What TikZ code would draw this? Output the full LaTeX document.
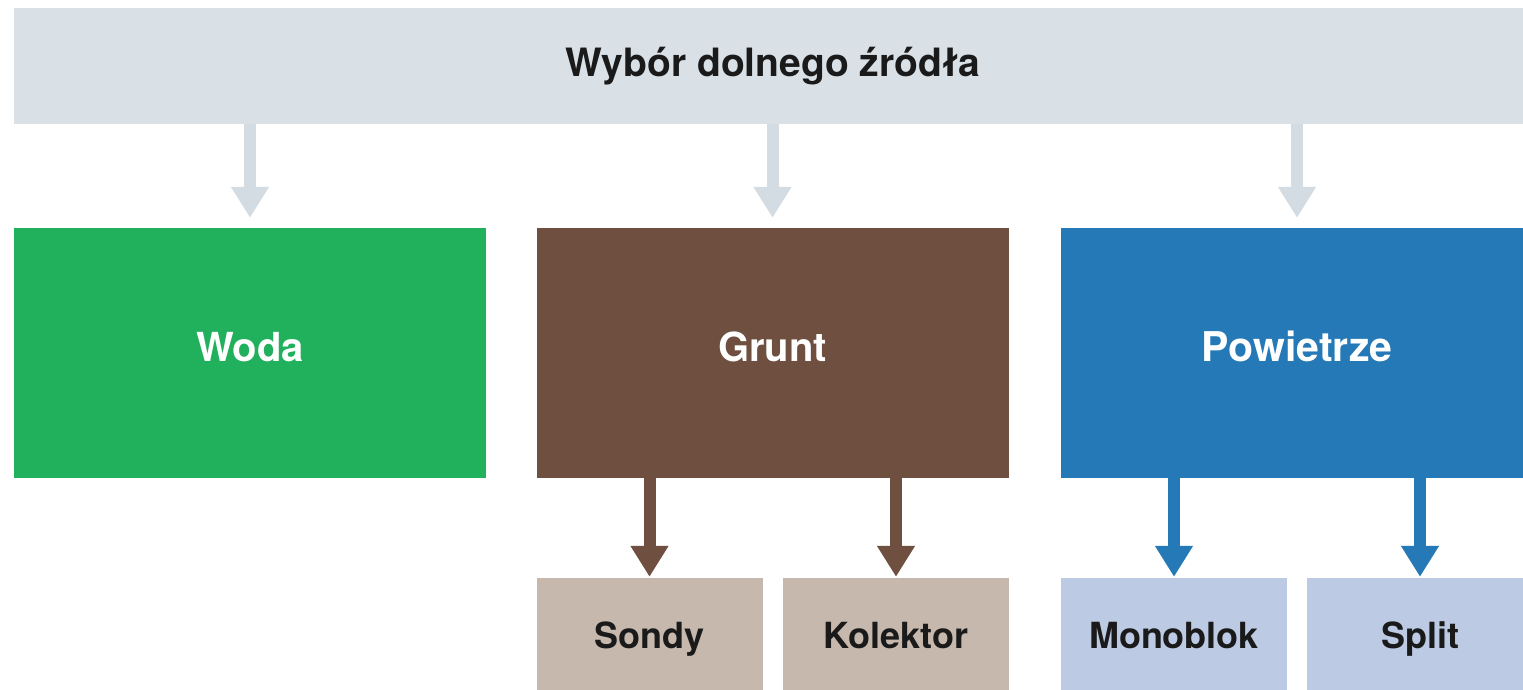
\documentclass[tikz,border=0pt]{standalone}
\usepackage{fontspec}
\setmainfont{TeX Gyre Heros}
\usetikzlibrary{arrows.meta}
\definecolor{topbar}{HTML}{D9E0E6}
\definecolor{grayarrow}{HTML}{D3DCE3}
\definecolor{wgreen}{HTML}{21B05B}
\definecolor{gbrown}{HTML}{6F4F3F}
\definecolor{pblue}{HTML}{2479B6}
\definecolor{lbrown}{HTML}{C6B8AD}
\definecolor{lblue}{HTML}{BCCBE3}
\definecolor{darktext}{HTML}{1A1A1A}
\tikzset{
  box/.style={rectangle, inner sep=0pt, text depth=0pt, font=\bfseries\fontsize{40}{44}\selectfont},
  mainbox/.style={box, minimum width=472pt, minimum height=250pt, text=white, text height=16pt},
  subbox/.style={box, minimum width=226pt, minimum height=118pt, text=darktext, text height=22pt, font=\bfseries\fontsize{36}{40}\selectfont},
  arr/.style={line width=12pt, -{Triangle[width=36pt,length=31pt]}},
}
\begin{document}
\begin{tikzpicture}[x=1pt,y=-1pt]
\useasboundingbox[fill=white] (0,0) rectangle (1523,690);
\node[box, fill=topbar, minimum width=1517pt, minimum height=116pt, text=darktext, text height=22pt, font=\bfseries\fontsize{39}{43}\selectfont] (top) at (772.5,66) {Wybór dolnego źródła};
\node[mainbox, fill=wgreen] (woda) at (250,353) {Woda};
\node[mainbox, fill=gbrown] (grunt) at (772.5,353) {Grunt};
\node[mainbox, fill=pblue, font=\bfseries\fontsize{41}{45}\selectfont] (pow) at (1297,353) {Powietrze};
\node[subbox, fill=lbrown] (sondy) at (649.5,637) {Sondy};
\node[subbox, fill=lbrown] (kol) at (896,637) {Kolektor};
\node[subbox, fill=lblue] (mono) at (1174,637) {Monoblok};
\node[subbox, fill=lblue] (split) at (1420,637) {Split};
\foreach \n in {woda,grunt,pow}{
  \draw[arr, grayarrow, shorten >=10pt] (top.south -| \n.north) -- (\n.north);
}
\draw[arr, gbrown, shorten >=1pt] (grunt.south -| sondy.north) -- (sondy.north);
\draw[arr, gbrown, shorten >=1pt] (grunt.south -| kol.north) -- (kol.north);
\draw[arr, pblue, shorten >=1pt] (pow.south -| mono.north) -- (mono.north);
\draw[arr, pblue, shorten >=1pt] (pow.south -| split.north) -- (split.north);
\end{tikzpicture}
\end{document}
